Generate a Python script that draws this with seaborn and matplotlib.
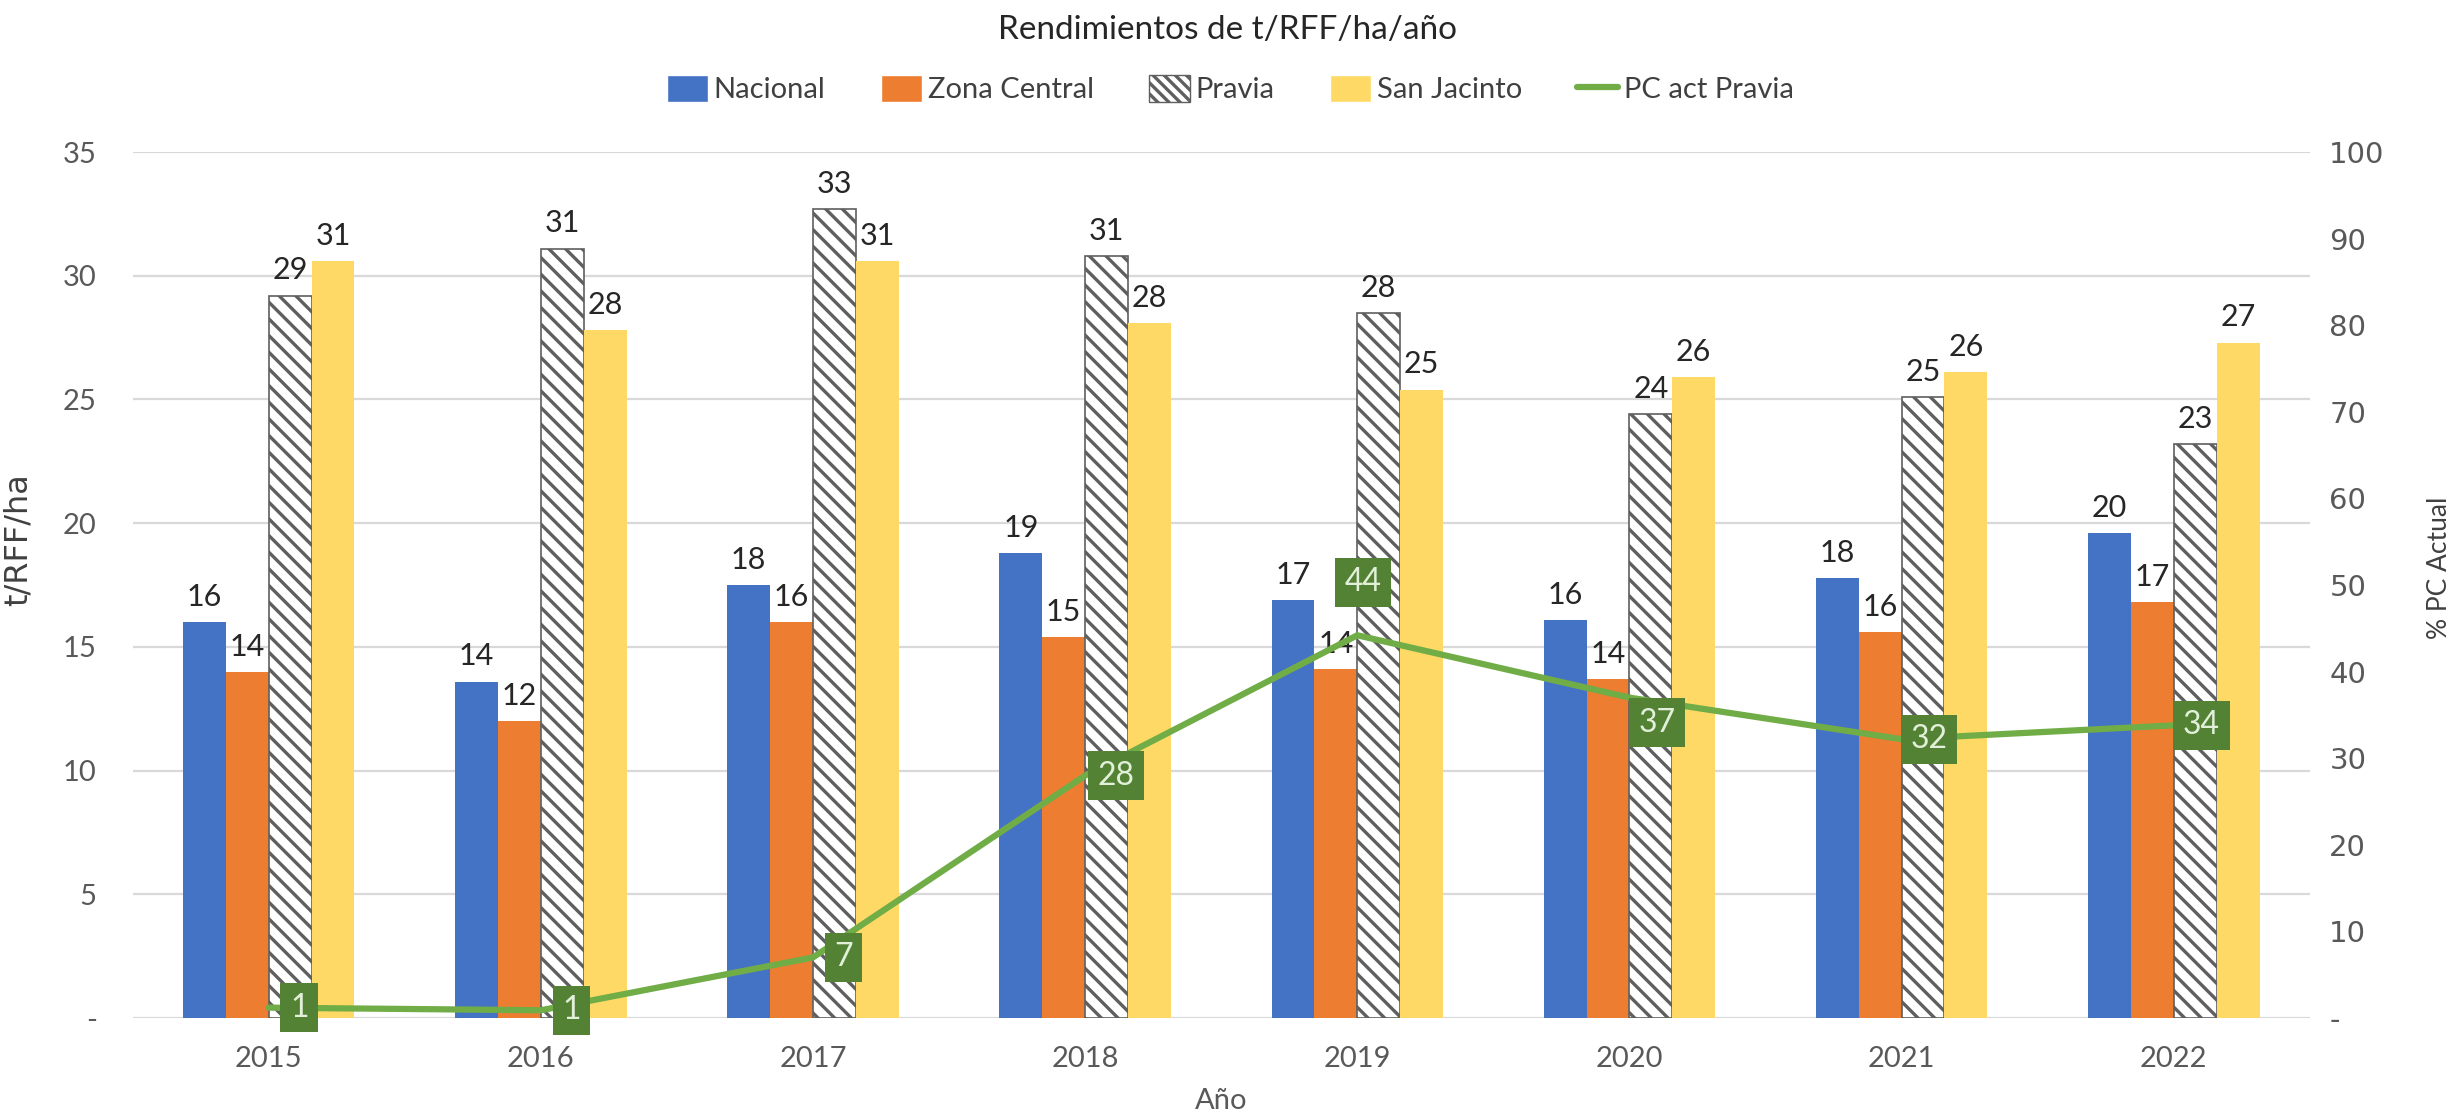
import numpy as np
import pandas as pd
import matplotlib.pyplot as plt
import seaborn as sns
from matplotlib.patches import Patch
from matplotlib.lines import Line2D

years = ['2015', '2016', '2017', '2018', '2019', '2020', '2021', '2022']
nacional = [16.0, 13.6, 17.5, 18.8, 16.9, 16.1, 17.8, 19.6]
zona_central = [14.0, 12.0, 16.0, 15.4, 14.1, 13.7, 15.6, 16.8]
pravia = [29.2, 31.1, 32.7, 30.8, 28.5, 24.4, 25.1, 23.2]
san_jacinto = [30.6, 27.8, 30.6, 28.1, 25.4, 25.9, 26.1, 27.3]
pc_act_pravia = [1.2, 0.9, 7.0, 28.0, 44.2, 37.0, 32.2, 33.8]
series_names = ['Nacional', 'Zona Central', 'Pravia', 'San Jacinto']
line_name = 'PC act Pravia'

colors = ['#4472C4', '#ED7D31', '#FFFFFF', '#FFD966']
green = '#70AD47'
dark_green = '#548235'
hatch_grey = '#5F5F5F'

# offsets (points) for the green data labels, like excel placed them
label_offsets = [(22, 0), (22, 0), (22, 0), (22, 0), (4, 38), (20, -18), (20, 0), (20, 0)]

df = pd.DataFrame({
    'Año': years * 4,
    'valor': nacional + zona_central + pravia + san_jacinto,
    'serie': [s for s in series_names for _ in years],
})

sns.set_theme(style='white')
plt.rcParams['font.family'] = ['Lato', 'DejaVu Sans']
plt.rcParams['hatch.linewidth'] = 2.4

fig = plt.figure(figsize=(24.56, 11.18), dpi=100)
ax = fig.add_axes([0.054, 0.0894, 0.8865, 0.7746])

sns.barplot(data=df, x='Año', y='valor', hue='serie', hue_order=series_names,
            palette=colors, width=0.63, saturation=1, errorbar=None,
            legend=False, linewidth=0, ax=ax)

for cont, name in zip(ax.containers, series_names):
    if name == 'Pravia':
        for bar in cont:
            bar.set_facecolor('white')
            bar.set_edgecolor(hatch_grey)
            bar.set_linewidth(1.2)
            bar.set_hatch('\\\\')
    ax.bar_label(cont, labels=[f'{b.get_height():.0f}' for b in cont],
                 padding=8, fontsize=22, color='#262626')

ax.set_ylim(0, 35)
ax.set_yticks(np.arange(0, 36, 5))
ax.set_yticklabels(['-'] + [str(v) for v in range(5, 36, 5)])
ax.yaxis.grid(True, color='#D9D9D9', linewidth=1.6)
ax.set_axisbelow(True)
for sp in ax.spines.values():
    sp.set_visible(False)
ax.tick_params(axis='y', length=0, pad=26, labelsize=21, labelcolor='#595959')
ax.tick_params(axis='x', length=0, pad=20, labelsize=21, labelcolor='#595959')
ax.set_xlabel('Año', fontsize=21, color='#595959', labelpad=12)
ax.set_ylabel('t/RFF/ha', fontsize=23, color='#404040', family='DejaVu Sans')
ax.yaxis.set_label_coords(-0.0455, 0.553)

ax2 = ax.twinx()
sns.lineplot(x=np.arange(len(years)), y=pc_act_pravia, ax=ax2, color=green,
             linewidth=4.5)
ax2.set_ylim(0, 100)
ax2.set_yticks(np.arange(0, 101, 10))
ax2.set_yticklabels(['-'] + [str(v) for v in range(10, 101, 10)],
                    family='DejaVu Sans')
ax2.tick_params(axis='y', length=0, pad=14, labelsize=21, labelcolor='#595959')
for sp in ax2.spines.values():
    sp.set_visible(False)
ax2.set_ylabel('% PC Actual', fontsize=19, color='#404040')
ax2.yaxis.set_label_coords(1.054, 0.52)

for i, v in enumerate(pc_act_pravia):
    ax2.annotate(f'{v:.0f}', xy=(i, v), xytext=label_offsets[i],
                 textcoords='offset points', ha='center', va='center',
                 fontsize=23, color='#E2F0D9',
                 bbox=dict(boxstyle='square,pad=0.3', fc=dark_green, ec='none'))

ax.set_xlim(-0.5, len(years) - 0.5)

fig.suptitle('Rendimientos de t/RFF/ha/año', y=0.987, fontsize=24, color='#262626')

handles = [Patch(facecolor=colors[0]), Patch(facecolor=colors[1]),
           Patch(facecolor='white', edgecolor=hatch_grey, hatch='\\\\\\'),
           Patch(facecolor=colors[3]),
           Line2D([0], [0], color=green, linewidth=4.5)]
fig.legend(handles, series_names + [line_name], loc='center',
           bbox_to_anchor=(0.501, 0.92), ncol=5, frameon=False, fontsize=21,
           handlelength=1.4, handleheight=1.0, columnspacing=1.9,
           handletextpad=0.2, labelcolor='#404040')

fig.savefig('out.png', dpi=100)
